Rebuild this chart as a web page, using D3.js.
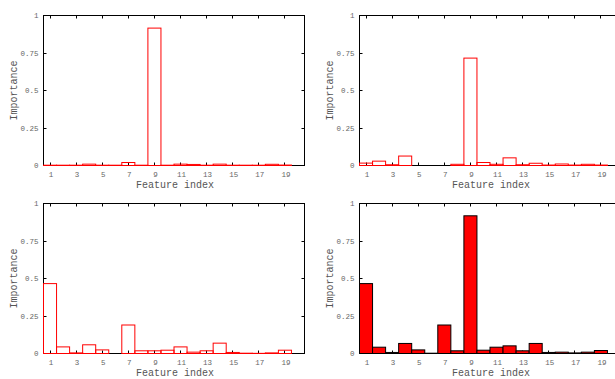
<!DOCTYPE html>
<html>
<head>
<meta charset="utf-8">
<script src="https://cdn.jsdelivr.net/npm/d3@7"></script>
<style>
  body { margin: 0; background: #fff; }
  svg { display: block; }
</style>
</head>
<body>
<div id="chart"></div>
<script>
// feature indices 1..19
const features = d3.range(1, 20);
const xTicks = [1, 3, 5, 7, 9, 11, 13, 15, 17, 19];
const yTicks = [0, 0.25, 0.5, 0.75, 1];

// importance per feature
const topLeft = [0.002, 0.002, 0.002, 0.009, 0.002, 0.002, 0.02, 0.002, 0.916, 0.002,
                 0.009, 0.007, 0.002, 0.009, 0.002, 0.002, 0.002, 0.008, 0.003];
const topRight = [0.016, 0.029, 0.005, 0.063, 0, 0, 0, 0.008, 0.716, 0.02,
                  0.008, 0.051, 0.005, 0.015, 0.003, 0.01, 0.003, 0.008, 0.003];
const bottomLeft = [0.466, 0.044, 0.004, 0.058, 0.024, 0, 0.19, 0.018, 0.018, 0.022,
                    0.044, 0.009, 0.018, 0.069, 0.007, 0.002, 0.001, 0.004, 0.022];
const bottomRight = [0.466, 0.042, 0.007, 0.067, 0.024, 0.002, 0.19, 0.018, 0.918, 0.022,
                     0.042, 0.051, 0.018, 0.067, 0.007, 0.009, 0.004, 0.009, 0.02];

const W = 615, H = 379;
const FONT = '"Liberation Mono", monospace';

const svg = d3.select('#chart')
  .append('svg')
    .attr('width', W)
    .attr('height', H)
    .attr('font-family', FONT);

const panels = [
  {values: topLeft,     left: 43,  top: 15,  filled: false},
  {values: topRight,    left: 359, top: 15,  filled: false},
  {values: bottomLeft,  left: 43,  top: 203, filled: false},
  {values: bottomRight, left: 359, top: 203, filled: true}
];
const pw = 261, ph = 150;

panels.forEach(p => drawPanel(p));

function drawPanel(p) {
  const g = svg.append('g')
    .attr('transform', 'translate(' + (p.left + 0.5) + ',' + (p.top + 0.5) + ')');

  const x = d3.scaleLinear().domain([0.5, 20.5]).range([0, pw]);
  const y = d3.scaleLinear().domain([0, 1]).range([ph, 0]);

  // frame
  g.append('rect')
    .attr('width', pw)
    .attr('height', ph)
    .attr('fill', 'none')
    .attr('stroke', '#000')
    .attr('stroke-width', 1);

  // ticks, all pointing inward
  const tl = 3;
  const tk = g.append('g').attr('stroke', '#000').attr('stroke-width', 1);
  xTicks.forEach(t => {
    const xx = Math.round(x(t));
    tk.append('line').attr('x1', xx).attr('x2', xx).attr('y1', ph).attr('y2', ph - tl);
    tk.append('line').attr('x1', xx).attr('x2', xx).attr('y1', 0).attr('y2', tl);
  });
  yTicks.forEach(t => {
    const yy = Math.round(y(t));
    tk.append('line').attr('x1', 0).attr('x2', tl).attr('y1', yy).attr('y2', yy);
    tk.append('line').attr('x1', pw).attr('x2', pw - tl).attr('y1', yy).attr('y2', yy);
  });

  // tick labels
  g.selectAll('.xl')
    .data(xTicks)
    .enter()
    .append('text')
      .attr('x', d => x(d) + 1)
      .attr('y', ph + 11.5)
      .attr('text-anchor', 'middle')
      .attr('font-size', 7.5)
      .attr('fill', '#666')
      .text(d => d);

  g.selectAll('.yl')
    .data(yTicks)
    .enter()
    .append('text')
      .attr('x', -5)
      .attr('y', d => y(d) + 2.5)
      .attr('text-anchor', 'end')
      .attr('font-size', 7.5)
      .attr('fill', '#666')
      .text(d => d);

  // bars
  g.selectAll('.bar')
    .data(features)
    .enter()
    .append('rect')
      .attr('x', d => x(d - 0.5))
      .attr('width', x(1.5) - x(0.5))
      .attr('y', (d, i) => y(p.values[i]))
      .attr('height', (d, i) => ph - y(p.values[i]))
      .attr('fill', p.filled ? '#ff0000' : 'none')
      .attr('stroke', p.filled ? '#000' : '#ff0000')
      .attr('stroke-width', 1);

  // axis titles
  g.append('text')
    .attr('x', pw / 2 + 1)
    .attr('y', ph + 22.5)
    .attr('text-anchor', 'middle')
    .attr('font-size', 10)
    .attr('fill', '#555')
    .text('Feature index');

  g.append('text')
    .attr('transform', 'translate(-27,' + (ph / 2) + ')rotate(-90)')
    .attr('text-anchor', 'middle')
    .attr('font-size', 10)
    .attr('fill', '#555')
    .text('Importance');
}
</script>
</body>
</html>
